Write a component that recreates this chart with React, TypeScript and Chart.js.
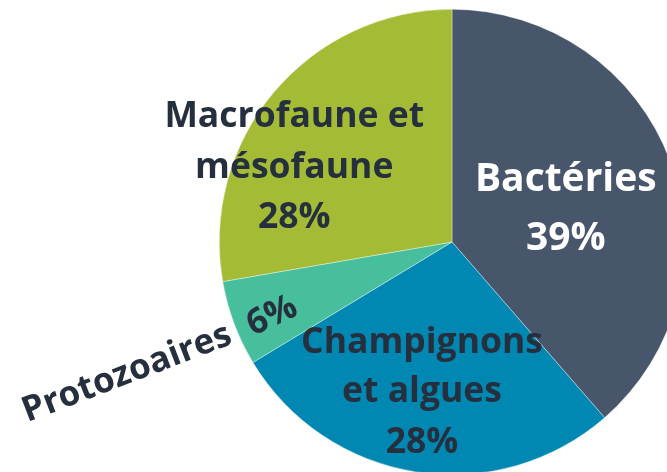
import React, { useEffect, useRef } from "react";
import { Chart, registerables } from "chart.js";

Chart.register(...registerables);

const categories = ["Bactéries", "Champignons et algues", "Protozoaires", "Macrofaune et mésofaune"];
const values = [39, 28, 6, 28];
const colors = ["#48566b", "#0088b2", "#48bf9c", "#a4bb35"];
const percentLabels = ["39%", "28%", "6%", "28%"];

const FONT = "'Open Sans', 'DejaVu Sans', sans-serif";
const TEXT = "#262f3d";

// label layout, relative to pie centre in units of radius
const labelPlugin = {
  id: "pieLabels",
  afterDraw(chart: any) {
    const meta = chart.getDatasetMeta(0);
    const arc = meta.data[0];
    if (!arc) return;
    const cx = arc.x;
    const cy = arc.y;
    const r = arc.outerRadius;
    const ctx = chart.ctx;
    ctx.save();
    ctx.textAlign = "center";

    const block = (lines: string[], fx: number, fys: number[], size: number, color: string) => {
      ctx.font = `bold ${size}px ${FONT}`;
      ctx.fillStyle = color;
      ctx.textBaseline = "alphabetic";
      lines.forEach((l, i) => ctx.fillText(l, cx + fx * r, cy + fys[i] * r));
    };

    // Bactéries
    block([categories[0], percentLabels[0]], 0.489, [-0.221, 0.036], 39, "#ffffff");
    // Champignons et algues
    block(["Champignons", "et algues", percentLabels[1]], -0.129, [0.478, 0.689, 0.908], 35.5, TEXT);
    // Macrofaune et mésofaune
    block(["Macrofaune et", "mésofaune", percentLabels[3]], -0.678, [-0.496, -0.273, -0.062], 35.5, TEXT);

    const rotated = (text: string, fx: number, fy: number, deg: number, size: number) => {
      ctx.save();
      ctx.translate(cx + fx * r, cy + fy * r);
      ctx.rotate((deg * Math.PI) / 180);
      ctx.font = `bold ${size}px ${FONT}`;
      ctx.fillStyle = TEXT;
      ctx.textBaseline = "middle";
      ctx.fillText(text, 0, 0);
      ctx.restore();
    };
    rotated(percentLabels[2], -0.773, 0.318, -25, 35);
    rotated(categories[2], -1.397, 0.565, -21, 35);
    ctx.restore();
  },
};

export default function App() {
  const ref = useRef<HTMLCanvasElement>(null);
  useEffect(() => {
    document.body.style.margin = "0";
    const chart = new Chart(ref.current!, {
      type: "pie",
      data: {
        labels: categories,
        datasets: [
          {
            data: values,
            backgroundColor: colors,
            borderColor: "rgba(255,255,255,0.6)",
            borderWidth: 0.6,
          },
        ],
      },
      options: {
        responsive: false,
        animation: false,
        layout: { padding: { top: 9, bottom: 9, left: 0, right: 0 } },
        plugins: { legend: { display: false }, tooltip: { enabled: false } },
      },
      plugins: [labelPlugin],
    });
    return () => chart.destroy();
  }, []);
  return (
    <div style={{ position: "fixed", left: 0, top: 0, width: 667, height: 472, overflow: "hidden", background: "#fff" }}>
      <canvas ref={ref} width={904} height={484} style={{ width: 904, height: 484, display: "block" }} />
    </div>
  );
}
